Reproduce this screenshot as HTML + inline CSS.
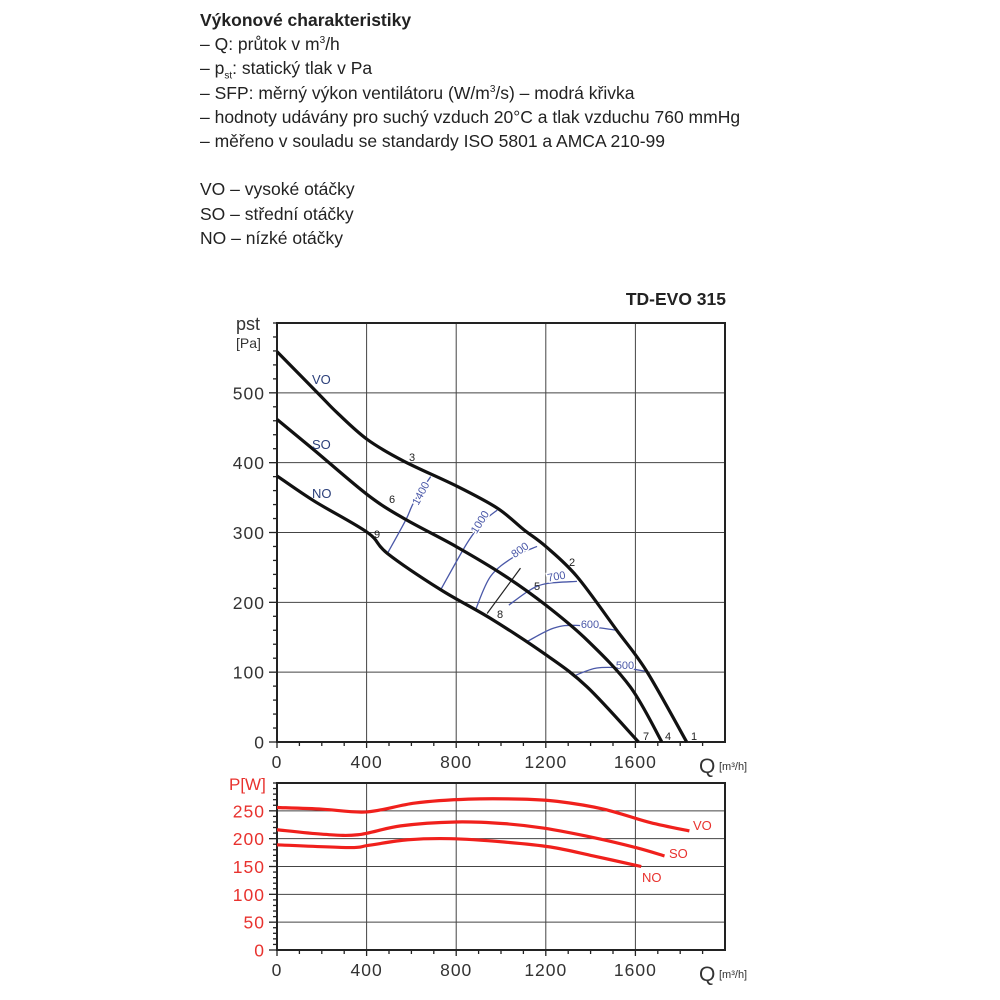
<!DOCTYPE html>
<html><head><meta charset="utf-8">
<style>
body{margin:0;background:#fff;width:1000px;height:1000px;overflow:hidden;font-family:"Liberation Sans",sans-serif;color:#222}
#hdr{position:absolute;left:200px;top:8px;font-size:17.5px;line-height:24.2px}
#hdr div{height:24.2px;white-space:nowrap}
#hdr sup,#hdr sub{font-size:10px;line-height:0}
#hdr b{font-weight:bold}
svg{position:absolute;left:0;top:0}
</style></head><body>
<div id="hdr">
<div><b>Výkonové charakteristiky</b></div>
<div>– Q: průtok v m<sup>3</sup>/h</div>
<div>– p<sub>st</sub>: statický tlak v Pa</div>
<div>– SFP: měrný výkon ventilátoru (W/m<sup>3</sup>/s) – modrá křivka</div>
<div>– hodnoty udávány pro suchý vzduch 20°C a tlak vzduchu 760 mmHg</div>
<div>– měřeno v souladu se standardy ISO 5801 a AMCA 210-99</div>
<div>&nbsp;</div>
<div>VO – vysoké otáčky</div>
<div>SO – střední otáčky</div>
<div>NO – nízké otáčky</div>
</div>
<svg id="chart" width="1000" height="1000"></svg>
<script>
// ---- data ----
const qTicks=[0,400,800,1200,1600];
const pTicks=[0,100,200,300,400,500];
const wTicks=[0,50,100,150,200,250];
const voQ=[0,181,270,404,567,805,983,1102,1200,1339,1517,1651,1829];
const voP=[559,500,471,433,402,366,335,304,280,237,160,101,0];
const soQ=[0,166,404,567,799,1012,1200,1384,1577,1718];
const soP=[462,418,354,320,280,239,196,146,79,0];
const noQ=[0,166,404,493,731,953,1200,1384,1614];
const noP=[381,345,300,270,218,177,125,79,0];
const sfpLabels=['1400','1000','800','700','600','500'];
const sfpQ=[[493,575,612,686],[731,849,923,983],[886,953,1057,1161],[1035,1131,1206,1339],[1117,1235,1339,1517],[1336,1428,1548,1651]];
const sfpP=[[270,318,344,380],[218,285,316,332],[189,237,265,280],[196,218,227,230],[144,163,167,160],[96,106,106,101]];
const pwVoQ=[0,202,401,616,855,1093,1252,1459,1666,1841];
const pwVoW=[256,253,248,264,271,271,267,253,229,214];
const pwSoQ=[0,202,361,552,799,1014,1189,1412,1602,1730];
const pwSoW=[216,208,207,223,230,227,219,202,184,169];
const pwNoQ=[0,322,409,584,775,1014,1221,1412,1626];
const pwNoW=[189,184,188,198,200,194,185,169,150];

// ---- axes ----
const L=277,R=725;
const xs=q=>L+(q/2000)*(R-L);
const T1=323,B1=742; const y1=p=>B1-(p/600)*(B1-T1);
const T2=783,B2=950; const y2=w=>B2-(w/300)*(B2-T2);
const svg=document.getElementById('chart');
const NS='http://www.w3.org/2000/svg';
function mk(tag,attrs,parent){const e=document.createElementNS(NS,tag);for(const k in attrs)e.setAttribute(k,attrs[k]);(parent||svg).appendChild(e);return e;}
function txt(x,y,s,attrs,parent){const t=mk('text',Object.assign({x:x,y:y},attrs),parent);t.textContent=s;return t;}
function smooth(pts){let d='M'+pts[0][0]+','+pts[0][1];for(let i=0;i<pts.length-1;i++){const p0=pts[i-1]||pts[i],p1=pts[i],p2=pts[i+1],p3=pts[i+2]||p2;const c1=[p1[0]+(p2[0]-p0[0])/6,p1[1]+(p2[1]-p0[1])/6],c2=[p2[0]-(p3[0]-p1[0])/6,p2[1]-(p3[1]-p1[1])/6];d+=' C'+c1+' '+c2+' '+p2;}return d;}

function panel(T,B,yf,ticks,minorStep,max,color,name){
  const g=mk('g',{});
  
  
  qTicks.forEach(q=>{if(q>0){const l=mk('line',{x1:xs(q),x2:xs(q),y1:T,y2:B,stroke:'#444','stroke-width':1},g);}});
  ticks.forEach(v=>{if(v>0){const l=mk('line',{x1:L,x2:R,y1:yf(v),y2:yf(v),stroke:'#444','stroke-width':1},g);}});
  for(let v=0;v<=max;v+=minorStep){const major=ticks.includes(v);mk('line',{x1:L-(major?8:4),x2:L,y1:yf(v),y2:yf(v),stroke:'#222','stroke-width':1.3},g);}
  for(let q=0;q<=1900;q+=100){mk('line',{x1:xs(q),x2:xs(q),y1:B,y2:B+(q%400==0?6:4),stroke:'#222','stroke-width':1.3},g);}
  const r=mk('rect',{x:L,y:T,width:R-L,height:B-T,fill:'none',stroke:'#222','stroke-width':2},g);
  
  ticks.forEach(v=>{const t=txt(265,yf(v)+6.5,String(v),{'text-anchor':'end','font-size':17.5,fill:color,'letter-spacing':1},g);});
  qTicks.forEach(q=>{const t=txt(xs(q),B+26,String(q),{'text-anchor':'middle','font-size':17.5,fill:'#333','letter-spacing':1},g);});
  const qa=txt(699,B+31,'Q',{'font-size':21,fill:'#333'},g);
  const qu=txt(719,B+28,'[m³/h]',{'font-size':11,fill:'#333'},g);
}
panel(T1,B1,y1,pTicks,20,600,'#333','pressure-chart');
panel(T2,B2,y2,wTicks,10,300,'#e8322e','power-chart');

const pt=txt(236,330,'pst',{'font-size':18,fill:'#333'});
const pu=txt(236,348,'[Pa]',{'font-size':14,fill:'#333'});
const wt=txt(229,790,'P[W]',{'font-size':17,fill:'#e8322e'});
const ti=txt(726,305,'TD-EVO 315',{'font-size':17.5,'font-weight':'bold','text-anchor':'end',fill:'#222'});

// SFP blue lines
sfpQ.forEach((qs,i)=>{const p=mk('path',{d:smooth(qs.map((q,j)=>[xs(q),y1(sfpP[i][j])])),fill:'none',stroke:'#4a58a8','stroke-width':1.3});

});
const sfpPos=[[424,495,-62],[483,524,-58],[522,553,-35],[557,580,-10],[590,628,0],[625,669,0]];
sfpLabels.forEach((s,i)=>{const [x,y,a]=sfpPos[i];const t=txt(x,y,s,{'font-size':11,fill:'#4a58a8','text-anchor':'middle',transform:'rotate('+a+' '+x+' '+y+')',stroke:'#fff','stroke-width':3,'paint-order':'stroke'});});
const l8=mk('path',{d:'M'+xs(938)+','+y1(184)+' L'+xs(1087)+','+y1(249),stroke:'#222','stroke-width':1.2});


// pressure curves
[[voQ,voP,'vo'],[soQ,soP,'so'],[noQ,noP,'no']].forEach(([Q,P,n])=>{const p=mk('path',{d:smooth(Q.map((q,i)=>[xs(q),y1(P[i])])),fill:'none',stroke:'#111','stroke-width':3.2});

});
[[pwVoQ,pwVoW,'vo'],[pwSoQ,pwSoW,'so'],[pwNoQ,pwNoW,'no']].forEach(([Q,W,n])=>{const p=mk('path',{d:smooth(Q.map((q,i)=>[xs(q),y2(W[i])])),fill:'none',stroke:'#f0201c','stroke-width':3.2});

});

// labels
[['VO',312,384],['SO',312,449],['NO',312,498]].forEach(([s,x,y])=>{const t=txt(x,y,s,{'font-size':13,fill:'#2b3f7a'});});
[['3',412,461],['2',572,566],['1',694,740],['4',668,740],['7',646,740],['5',537,590],['6',392,503],['9',377,538],['8',500,618]].forEach(([s,x,y])=>{const t=txt(x,y,s,{'font-size':11,fill:'#222','text-anchor':'middle'});});
[['VO',693,830],['SO',669,858],['NO',642,882]].forEach(([s,x,y])=>{const t=txt(x,y,s,{'font-size':13,fill:'#e8322e'});});
</script>
</body></html>
